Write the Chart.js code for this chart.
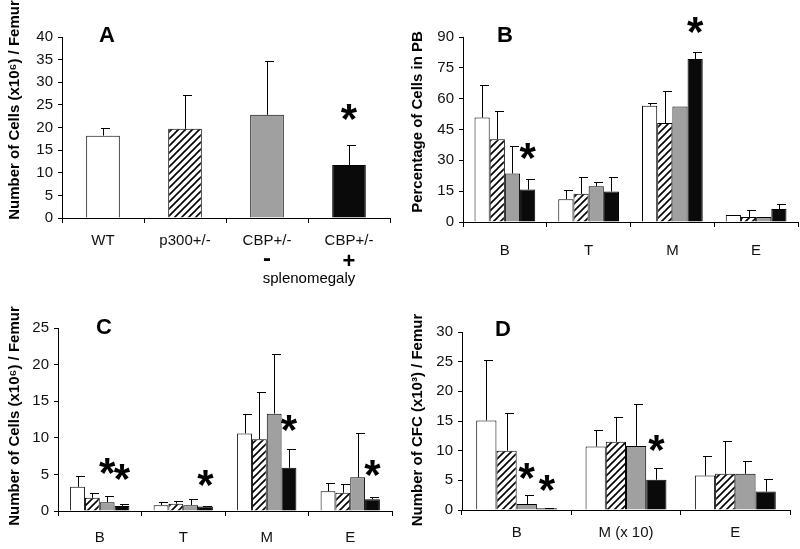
<!DOCTYPE html>
<html>
<head>
<meta charset="utf-8">
<script src="https://cdn.jsdelivr.net/npm/chart.js@4.4.1/dist/chart.umd.min.js"></script>
<style>
    body { margin: 0; background: #fff; }
    #wrap { position: relative; width: 800px; height: 549px; overflow: hidden; }
    canvas { position: absolute; }
</style>
</head>
<body>
<div id="wrap">
    <canvas id="chartA" width="400" height="290" style="left:0;top:0"></canvas>
    <canvas id="chartB" width="400" height="290" style="left:400px;top:0"></canvas>
    <canvas id="chartC" width="400" height="259" style="left:0;top:290px"></canvas>
    <canvas id="chartD" width="400" height="259" style="left:400px;top:290px"></canvas>
</div>
<script>
// ===== DATA =====

const seriesNames = ['WT', 'p300+/-', 'CBP+/- (- splenomegaly)', 'CBP+/- (+ splenomegaly)'];

// A - cells per femur
const groupsA = ['WT', 'p300+/-', 'CBP+/-', 'CBP+/-'];
const meanA = [18.2, 19.7, 22.8, 11.7];
const errA = [1.8, 7.4, 11.8, 4.4];
const ticksA = [0, 5, 10, 15, 20, 25, 30, 35, 40];
const starsA = [[3, 0, 23.9]];          // [category, series, y]

// B - % of cells in PB
const lineagesB = ['B', 'T', 'M', 'E'];
const pbWT = [50.8, 11.1, 56.6, 3.4];
const pbWTerr = [15.9, 4.5, 1.5, 0];
const pbP300 = [40.2, 13.7, 48.2, 2.4];
const pbP300err = [13.8, 8.4, 15.3, 3.5];
const pbCbpNeg = [23.6, 17.4, 56.2, 2.4];
const pbCbpNegErr = [13.2, 2.1, 0, 0];
const pbCbpPos = [15.8, 14.8, 79.3, 6.3];
const pbCbpPosErr = [5.0, 7.3, 3.2, 2.7];
const ticksB = [0, 15, 30, 45, 60, 75, 90];
const starsB = [[0, 3, 35.5], [2, 3, 97]];

// C - cells per femur by lineage
const lineagesC = ['B', 'T', 'M', 'E'];
const bmWT = [3.3, 0.8, 10.6, 2.7];
const bmWTerr = [1.5, 0.4, 2.7, 1.1];
const bmP300 = [1.8, 1.0, 9.8, 2.5];
const bmP300err = [0.7, 0.4, 6.4, 1.2];
const bmCbpNeg = [1.2, 0.8, 13.3, 4.6];
const bmCbpNegErr = [0.9, 0.9, 8.2, 6.1];
const bmCbpPos = [0.7, 0.6, 5.9, 1.6];
const bmCbpPosErr = [0.2, 0.1, 2.6, 0.3];
const ticksC = [0, 5, 10, 15, 20, 25];
const starsC = [[0, 2, 6.4], [0, 3, 5.6], [1, 3, 4.8], [2, 3, 12.3], [3, 3, 6.1]];

// D - CFC per femur
const lineagesD = ['B', 'M (x 10)', 'E'];
const cfcWT = [15.1, 10.7, 5.8];
const cfcWTerr = [10.2, 2.7, 3.3];
const cfcP300 = [10.0, 11.5, 6.1];
const cfcP300err = [6.4, 4.1, 5.6];
const cfcCbpNeg = [1.0, 10.8, 6.1];
const cfcCbpNegErr = [1.6, 7.1, 2.1];
const cfcCbpPos = [0.3, 5.1, 3.1];
const cfcCbpPosErr = [0.1, 1.9, 2.1];
const ticksD = [0, 5, 10, 15, 20, 25, 30];
const starsD = [[0, 2, 6.9], [0, 3, 4.9], [1, 3, 11.6]];

// ===== STYLE =====
const FONT = '"Liberation Sans", Arial, Helvetica, sans-serif';
Chart.defaults.font.family = FONT;
Chart.defaults.color = '#111';

function hatch() {
    const c = document.createElement('canvas');
    c.width = 7; c.height = 7;
    const g = c.getContext('2d');
    g.fillStyle = '#fff';
    g.fillRect(0, 0, 7, 7);
    g.strokeStyle = '#000';
    g.lineWidth = 1.6;
    g.beginPath();
    g.moveTo(-1, 8); g.lineTo(8, -1);
    g.moveTo(-1, 1); g.lineTo(1, -1);
    g.moveTo(6, 8); g.lineTo(8, 6);
    g.stroke();
    return g.createPattern(c, 'repeat');
}
const fills = ['#ffffff', hatch(), '#a0a0a0', '#0a0a0a'];

// error bars, asterisks, titles
const extrasPlugin = {
    id: 'extras',
    afterDatasetsDraw(chart, args, opts) {
        const ctx = chart.ctx;
        const yScale = chart.scales.y;
        ctx.save();
        ctx.strokeStyle = '#000';
        ctx.lineWidth = 1;
        chart.data.datasets.forEach((ds, i) => {
            chart.getDatasetMeta(i).data.forEach((bar, j) => {
                const e = ds.errors[j];
                if (!e) return;
                const x = Math.round(bar.x) + 0.5;
                const yTop = Math.round(yScale.getPixelForValue(ds.data[j] + e)) + 0.5;
                ctx.beginPath();
                ctx.moveTo(x, bar.y);
                ctx.lineTo(x, yTop);
                ctx.moveTo(x - 2.5, yTop);
                ctx.lineTo(x + 6.5, yTop);
                ctx.stroke();
            });
        });

        ctx.fillStyle = '#000';
        ctx.textAlign = 'center';
        ctx.textBaseline = 'alphabetic';
        ctx.font = 'bold 42px ' + FONT;
        (opts.stars || []).forEach(([cat, ser, val]) => {
            const bar = chart.getDatasetMeta(ser).data[cat];
            ctx.fillText('*', bar.x, yScale.getPixelForValue(val) + 23);
        });

        // panel letter
        ctx.font = 'bold 22px ' + FONT;
        ctx.textBaseline = 'middle';
        ctx.fillText(opts.letter, opts.letterPos[0], opts.letterPos[1]);

        // y axis title
        ctx.font = 'bold 15px ' + FONT;
        ctx.translate(opts.titlePos[0], opts.titlePos[1]);
        ctx.rotate(-Math.PI / 2);
        ctx.fillText(opts.title, 0, 0);
        ctx.restore();
    }
};

function makeChart(id, labels, datasets, ticks, cfg) {
    return new Chart(document.getElementById(id), {
        type: 'bar',
        data: { labels: labels, datasets: datasets },
        options: {
            responsive: false,
            animation: false,
            devicePixelRatio: 1,
            layout: { autoPadding: false, padding: cfg.padding },
            datasets: { bar: { categoryPercentage: cfg.catPct, barPercentage: cfg.barPct } },
            scales: {
                x: {
                    grid: { offset: true, drawOnChartArea: false, tickLength: 5, color: '#000' },
                    border: { color: '#000', width: 1 },
                    ticks: { font: { size: 15 }, padding: cfg.xPad, color: '#111' },
                    afterFit: s => { s.height = cfg.xHeight; }
                },
                y: {
                    min: ticks[0],
                    max: ticks[ticks.length - 1],
                    grid: { drawOnChartArea: false, tickLength: 4, color: '#000' },
                    border: { color: '#000', width: 1 },
                    ticks: { font: { size: 15 }, padding: 5, color: '#111' },
                    afterBuildTicks: s => { s.ticks = ticks.map(v => ({ value: v })); },
                    afterFit: s => { s.width = cfg.yWidth; }
                }
            },
            plugins: {
                legend: { display: false },
                tooltip: { enabled: false },
                extras: cfg.extras
            }
        },
        plugins: [extrasPlugin].concat(cfg.more || [])
    });
}

function groupSets(values, errors) {
    return values.map((v, i) => ({
        label: seriesNames[i],
        data: v,
        errors: errors[i],
        backgroundColor: fills[i],
        borderColor: '#000',
        borderWidth: 1
    }));
}

// ===== PANEL A =====
// second label line (-/+) and "splenomegaly" under the two CBP groups
const splenoPlugin = {
    id: 'spleno',
    afterDraw(chart) {
        const ctx = chart.ctx;
        const bars = chart.getDatasetMeta(0).data;
        ctx.save();
        ctx.fillStyle = '#000';
        ctx.textAlign = 'center';
        ctx.textBaseline = 'middle';
        ctx.font = 'bold 24px ' + FONT;
        ctx.fillText('-', bars[2].x, 259);
        ctx.font = 'bold 22px ' + FONT;
        ctx.fillText('+', bars[3].x, 262);
        ctx.font = '15px ' + FONT;
        ctx.textBaseline = 'alphabetic';
        ctx.fillText('splenomegaly', (bars[2].x + bars[3].x) / 2 + 1, 283);
        ctx.restore();
    }
};

makeChart('chartA', groupsA, [{
    label: 'Cells per femur',
    data: meanA,
    errors: errA,
    backgroundColor: fills,
    borderColor: '#000',
    borderWidth: 1
}], ticksA, {
    padding: { left: 0, top: 37, right: 10, bottom: 0 },
    yWidth: 62, xHeight: 72, xPad: 9, catPct: 1, barPct: 0.41,
    extras: { stars: starsA, letter: 'A', letterPos: [107, 36],
              title: 'Number of Cells (x10\u2076) / Femur', titlePos: [15, 110] },
    more: [splenoPlugin]
});

// ===== PANEL B =====
makeChart('chartB', lineagesB,
    groupSets([pbWT, pbP300, pbCbpNeg, pbCbpPos], [pbWTerr, pbP300err, pbCbpNegErr, pbCbpPosErr]),
    ticksB, {
    padding: { left: 0, top: 37, right: 2, bottom: 0 },
    yWidth: 63, xHeight: 68, xPad: 15, catPct: 0.725, barPct: 1,
    extras: { stars: starsB, letter: 'B', letterPos: [105, 36],
              title: 'Percentage of Cells in PB', titlePos: [18, 122] }
});

// ===== PANEL C =====
makeChart('chartC', lineagesC,
    groupSets([bmWT, bmP300, bmCbpNeg, bmCbpPos], [bmWTerr, bmP300err, bmCbpNegErr, bmCbpPosErr]),
    ticksC, {
    padding: { left: 0, top: 38, right: 8, bottom: 0 },
    yWidth: 58, xHeight: 38, xPad: 13, catPct: 0.71, barPct: 1,
    extras: { stars: starsC, letter: 'C', letterPos: [104, 38],
              title: 'Number of Cells (x10\u2076) / Femur', titlePos: [15, 126] }
});

// ===== PANEL D =====
makeChart('chartD', lineagesD,
    groupSets([cfcWT, cfcP300, cfcCbpNeg, cfcCbpPos], [cfcWTerr, cfcP300err, cfcCbpNegErr, cfcCbpPosErr]),
    ticksD, {
    padding: { left: 0, top: 42, right: 10, bottom: 0 },
    yWidth: 62, xHeight: 39, xPad: 9, catPct: 0.74, barPct: 1,
    extras: { stars: starsD, letter: 'D', letterPos: [103, 40],
              title: 'Number of CFC (x10\u00b3) / Femur', titlePos: [18, 130] }
});
</script>
</body>
</html>
